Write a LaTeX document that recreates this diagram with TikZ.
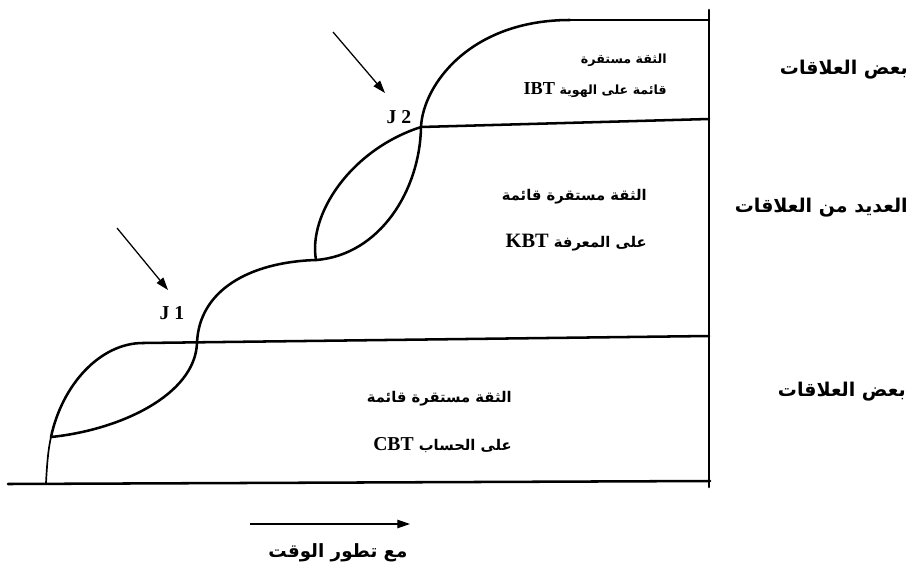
\documentclass[tikz,border=0pt]{standalone}
\usepackage{fontspec}
\setmainfont{Liberation Serif}
\newfontfamily\arabicfont[Script=Arabic]{DejaVu Sans}
\TeXXeTstate=1
\usetikzlibrary{arrows.meta, positioning}

\begin{document}
\begin{tikzpicture}[x=0.025cm, y=-0.025cm,
        band/.style={line width=1.8pt, line cap=round},
        pointer/.style={line width=0.9pt, -{Triangle[length=9pt, width=6pt]}},
        sidelabel/.style={font=\arabicfont\bfseries\fontsize{13.5}{16}\selectfont, inner sep=0pt, anchor=east},
        boxlabel/.style={font=\arabicfont\bfseries\fontsize{10.5}{12}\selectfont, inner sep=0pt, anchor=east},
        jlabel/.style={font=\bfseries\fontsize{14}{16}\selectfont, inner sep=0pt}]

    \useasboundingbox (0,0) rectangle (914,572);

    % frame
    \coordinate (B0) at (8,484);
    \coordinate (B1) at (710,481);
    \coordinate (R0) at (709,10);
    \coordinate (R1) at (709,487);
    \coordinate (T0) at (570,20);
    \coordinate (T1) at (709,20);
    \coordinate (K1) at (709,119);
    \coordinate (C0) at (143,343);
    \coordinate (C1) at (709,336);

    % curve points
    \coordinate (O) at (46,483);
    \coordinate (L1) at (51,437);
    \coordinate (J1) at (197,343);
    \coordinate (M) at (316,260);
    \coordinate (J2) at (421,127);

    \draw [band] (B0) -- (B1);
    \draw [band] (R0) -- (R1);
    \draw [band] (T0) -- (T1);
    \draw [band] (J2) -- (K1);
    \draw [band] (C0) -- (C1);

    \draw [line width=1.2pt] (O) .. controls (47,465) and (48,450) .. (L1);
    \draw [band] (L1) .. controls (62,385) and (100,343) .. (C0);
    \draw [band] (L1) .. controls (120,430) and (195,395) .. (J1)
                      .. controls (199,290) and (250,262) .. (M);
    \draw [band] (M) .. controls (308,215) and (350,150) .. (J2);
    \draw [band] (M) .. controls (380,255) and (420,190) .. (J2)
                     .. controls (423,85) and (470,20) .. (T0);

    % junction markers
    \coordinate (A1) at (117,228);
    \coordinate (A1e) at (168,290);
    \coordinate (A2) at (333,32);
    \coordinate (A2e) at (385,93);
    \draw [pointer] (A1) -- (A1e);
    \draw [pointer] (A2) -- (A2e);
    \node[jlabel] (N1) at (172,313) {J 1};
    \node[jlabel] (N2) at (399,117) {J 2};

    % time axis
    \coordinate (E0) at (250,524);
    \coordinate (E1) at (410,524);
    \draw [pointer] (E0) -- (E1);
    \node[sidelabel, anchor=center, font=\arabicfont\bfseries\fontsize{13}{15}\selectfont] (time) at (338,553) {\beginR مع تطور الوقت\endR};

    % band texts
    \node[boxlabel, font=\arabicfont\bfseries\fontsize{9}{11}\selectfont] (I1) at (667,60) {\beginR الثقة مستقرة\endR};
    \node[boxlabel, font=\arabicfont\bfseries\fontsize{9}{11}\selectfont] (I2) at (667,90) {\beginR قائمة على الهوية \beginL{\fontspec{Liberation Serif}\bfseries\fontsize{13}{15}\selectfont IBT}\endL\endR};
    \node[boxlabel] (K1t) at (647,197) {\beginR الثقة مستقرة قائمة\endR};
    \node[boxlabel] (K2t) at (647,243) {\beginR على المعرفة \beginL{\fontspec{Liberation Serif}\bfseries\fontsize{14.5}{16}\selectfont KBT}\endL\endR};
    \node[boxlabel] (C1t) at (512,399) {\beginR الثقة مستقرة قائمة\endR};
    \node[boxlabel] (C2t) at (512,445) {\beginR على الحساب \beginL{\fontspec{Liberation Serif}\fontsize{14}{16}\selectfont CBT}\endL\endR};

    % side texts
    \node[sidelabel] (S1) at (908,70) {\beginR بعض العلاقات\endR};
    \node[sidelabel] (S2) at (908,208) {\beginR العديد من العلاقات\endR};
    \node[sidelabel] (S3) at (906,392) {\beginR بعض العلاقات\endR};
\end{tikzpicture}
\end{document}
